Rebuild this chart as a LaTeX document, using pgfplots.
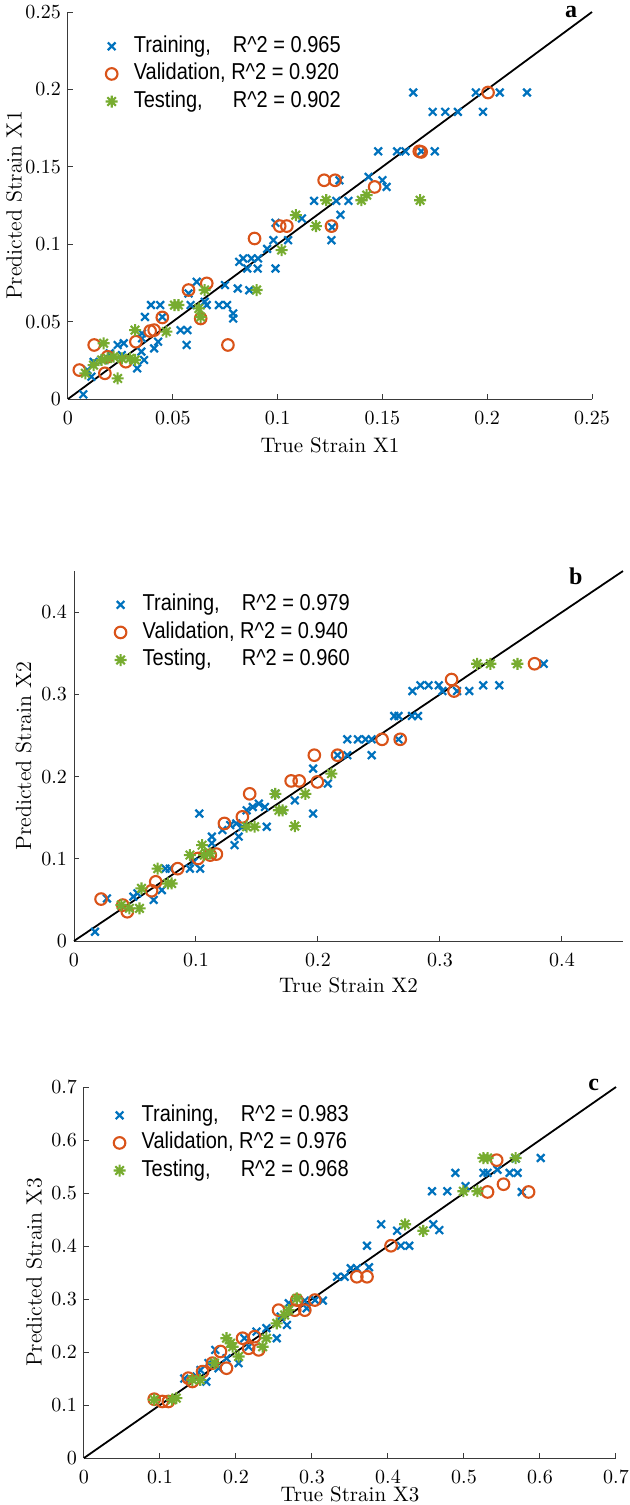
\documentclass[border=0pt]{standalone}
\usepackage{fontspec}
\usepackage{pgfplots}
\pgfplotsset{compat=1.18}
\newfontfamily\legfont[FakeStretch=0.87]{Liberation Sans}
\newfontfamily\ttlfont{Liberation Serif}
\definecolor{mblue}{HTML}{0072BD}
\definecolor{morange}{HTML}{D95319}
\definecolor{mgreen}{HTML}{77AC30}
\definecolor{axcol}{HTML}{3A3A3A}
\pgfdeclareplotmark{mstar}{%
 \pgfpathmoveto{\pgfqpoint{-\pgfplotmarksize}{0pt}}\pgfpathlineto{\pgfqpoint{\pgfplotmarksize}{0pt}}%
 \pgfpathmoveto{\pgfqpoint{0pt}{-\pgfplotmarksize}}\pgfpathlineto{\pgfqpoint{0pt}{\pgfplotmarksize}}%
 \pgfpathmoveto{\pgfqpoint{-.7071\pgfplotmarksize}{-.7071\pgfplotmarksize}}\pgfpathlineto{\pgfqpoint{.7071\pgfplotmarksize}{.7071\pgfplotmarksize}}%
 \pgfpathmoveto{\pgfqpoint{-.7071\pgfplotmarksize}{.7071\pgfplotmarksize}}\pgfpathlineto{\pgfqpoint{.7071\pgfplotmarksize}{-.7071\pgfplotmarksize}}%
 \pgfusepathqstroke}
\pgfplotsset{
 tr/.style={only marks, mark=x, mark size=2.7pt, mblue, line width=1.1pt},
 va/.style={only marks, mark=o, mark size=2.9pt, morange, line width=1.05pt},
 te/.style={only marks, mark=mstar, mark size=3pt, mgreen, line width=1.05pt},
 diag/.style={black, line width=0.9pt, no marks, forget plot},
 mystyle/.style={
  scale only axis, axis x line=bottom, axis y line=left,
  axis line style={-, axcol, line width=0.5pt},
  tick align=inside, major tick length=2.6pt, tick style={axcol, line width=0.5pt},
  tick label style={font=\fontsize{10.2}{12}\selectfont, black},
  xticklabel style={yshift=-3pt},
  /pgf/number format/fixed, /pgf/number format/precision=2,
  label style={font=\fontsize{10.5}{12}\selectfont},
  ylabel style={font=\fontsize{11}{12}\selectfont},
  clip=false,
  legend cell align=left,
  legend image code/.code={\path (0cm,0cm) (17pt,0cm); \draw[##1] plot coordinates {(8pt,0cm)};},
  legend style={draw=none, fill=none, inner sep=0pt, anchor=north west,
    font=\legfont\fontsize{11.5}{13}\selectfont, row sep=0pt,
    nodes={inner sep=1.5pt, text height=8.3pt, text depth=2.5pt}},
 }
}
\begin{document}
\begin{tikzpicture}
\useasboundingbox (0,0) rectangle (315pt,-752.5pt);
% ---------------- panel a
\begin{axis}[mystyle, at={(34pt,-199.5pt)}, anchor=south west, width=262pt, height=193.5pt,
  xmin=0, xmax=0.25, ymin=0, ymax=0.25,
  xtick={0,0.05,0.1,0.15,0.2,0.25}, ytick={0,0.05,0.1,0.15,0.2,0.25},
  xlabel={True Strain X1}, ylabel={Predicted Strain X1},
  xlabel style={at={(axis description cs:0.5,-0.119)}, anchor=center},
  ylabel style={at={(axis description cs:-0.103,0.5)}, anchor=center},
  legend style={at={(rel axis cs:0.05,0.948)}}]
\addplot[tr] coordinates {
(0.0073,0.003) (0.1647,0.198) (0.1946,0.198) (0.206,0.198) (0.219,0.198)
(0.174,0.1855) (0.180,0.1855) (0.186,0.1855) (0.198,0.1855)
(0.148,0.160) (0.157,0.160) (0.161,0.160) (0.175,0.160) (0.1685,0.160)
(0.1434,0.1435) (0.150,0.1413) (0.152,0.137) (0.1295,0.1413)
(0.1174,0.128) (0.128,0.128) (0.1338,0.128) (0.130,0.119) (0.1257,0.1026) (0.126,0.111)
(0.1116,0.1166) (0.099,0.1138) (0.105,0.1026) (0.098,0.1026) (0.095,0.097) (0.099,0.0843)
(0.0817,0.0886) (0.0836,0.0908) (0.0875,0.0908) (0.0907,0.0908) (0.0855,0.0843) (0.0905,0.0843)
(0.0749,0.0736) (0.081,0.0714) (0.0865,0.0703) (0.072,0.0607) (0.0759,0.0607) (0.0788,0.0553) (0.0788,0.052)
(0.0662,0.0607) (0.0575,0.0682) (0.0614,0.0757) (0.0652,0.0628) (0.0585,0.0607)
(0.0396,0.0607) (0.044,0.0607) (0.045,0.053) (0.0367,0.053) (0.0537,0.0445) (0.057,0.0445) (0.0566,0.0349)
(0.0411,0.0327) (0.0353,0.0392) (0.035,0.0306) (0.0363,0.0252) (0.033,0.0198)
(0.0237,0.0349) (0.0266,0.036) (0.0199,0.0295) (0.017,0.0252) (0.0122,0.024) (0.0093,0.0187) (0.0112,0.0144)
(0.0257,0.0284) (0.043,0.037) (0.0353,0.0424)
};
\addlegendentry{\makebox[4.31em][l]{Training,}R\textasciicircum 2 = 0.965}
\addplot[va] coordinates {
(0.0054,0.0187) (0.0125,0.0349) (0.0176,0.0166) (0.0189,0.0273) (0.0276,0.0241) (0.0324,0.037)
(0.0392,0.0439) (0.0411,0.0445) (0.045,0.0527) (0.0575,0.0704) (0.0662,0.0747) (0.0633,0.052)
(0.0763,0.0349) (0.089,0.1037) (0.101,0.1117) (0.1044,0.1117) (0.1257,0.1117) (0.1222,0.1413)
(0.1274,0.1413) (0.1463,0.137) (0.1676,0.160) (0.1685,0.1596) (0.2004,0.198)
};
\addlegendentry{Validation, R\textasciicircum 2 = 0.920}
\addplot[te] coordinates {
(0.0083,0.0166) (0.017,0.036) (0.0237,0.0133) (0.0122,0.0219) (0.016,0.0252) (0.0189,0.0262)
(0.0218,0.0273) (0.0257,0.0262) (0.0295,0.0262) (0.032,0.0445) (0.032,0.0252) (0.0469,0.0435)
(0.0508,0.0607) (0.0527,0.0607) (0.0624,0.0585) (0.0652,0.0704) (0.090,0.0704) (0.1019,0.0962)
(0.1087,0.1188) (0.1183,0.1117) (0.1232,0.1284) (0.140,0.1284) (0.1425,0.1317) (0.168,0.1284) (0.0633,0.053)
};
\addlegendentry{\makebox[4.31em][l]{Testing,}R\textasciicircum 2 = 0.902}
\addplot[diag] coordinates {(0,0) (0.25,0.25)};
\node[font=\ttlfont\bfseries\fontsize{12}{14}\selectfont] at (rel axis cs:0.96,1.0) {a};
\end{axis}
% ---------------- panel b
\begin{axis}[mystyle, at={(37pt,-470.5pt)}, anchor=south west, width=274.5pt, height=185pt,
  xmin=0, xmax=0.45, ymin=0, ymax=0.45,
  xtick={0,0.1,0.2,0.3,0.4}, ytick={0,0.1,0.2,0.3,0.4},
  xlabel={True Strain X2}, ylabel={Predicted Strain X2},
  xlabel style={at={(axis description cs:0.5,-0.119)}, anchor=center},
  ylabel style={at={(axis description cs:-0.092,0.5)}, anchor=center},
  legend style={at={(rel axis cs:0.053,0.947)}}]
\addplot[tr] coordinates {
(0.0172,0.0113) (0.027,0.0518) (0.0487,0.054) (0.0653,0.050) (0.052,0.058) (0.072,0.062)
(0.075,0.088) (0.0785,0.088) (0.095,0.088) (0.1034,0.088) (0.098,0.096) (0.1027,0.155)
(0.113,0.127) (0.113,0.119) (0.1216,0.135) (0.1316,0.1166) (0.135,0.127) (0.128,0.141)
(0.138,0.139) (0.1415,0.159) (0.1465,0.163) (0.1515,0.167) (0.1565,0.163) (0.158,0.139)
(0.133,0.143) (0.171,0.159) (0.165,0.179) (0.181,0.171) (0.196,0.2097) (0.196,0.155)
(0.208,0.1915) (0.216,0.226) (0.224,0.226) (0.224,0.2453) (0.2327,0.2453) (0.239,0.2453)
(0.244,0.226) (0.244,0.2453) (0.266,0.2453) (0.2625,0.2737) (0.266,0.2737) (0.277,0.2737)
(0.282,0.2737) (0.2774,0.304) (0.284,0.311) (0.2906,0.311) (0.299,0.311) (0.302,0.304)
(0.314,0.304) (0.324,0.304) (0.3354,0.311) (0.3486,0.311) (0.385,0.3372)
};
\addlegendentry{\makebox[4.31em][l]{Training,}R\textasciicircum 2 = 0.979}
\addplot[va] coordinates {
(0.0222,0.051) (0.040,0.0437) (0.0437,0.0356) (0.0636,0.0611) (0.067,0.072) (0.085,0.088)
(0.1017,0.1004) (0.1117,0.1045) (0.1167,0.1057) (0.1233,0.143) (0.138,0.151) (0.144,0.179)
(0.178,0.1947) (0.1846,0.1947) (0.1995,0.1935) (0.197,0.226) (0.216,0.226) (0.2525,0.2453)
(0.2674,0.2453) (0.3095,0.318) (0.3115,0.304) (0.3775,0.3372)
};
\addlegendentry{Validation, R\textasciicircum 2 = 0.940}
\addplot[te] coordinates {
(0.0388,0.0437) (0.0454,0.0397) (0.0537,0.0397) (0.0553,0.064) (0.0686,0.088) (0.0769,0.070)
(0.080,0.070) (0.095,0.1045) (0.105,0.1166) (0.1067,0.1045) (0.1117,0.1065) (0.1415,0.139)
(0.148,0.139) (0.165,0.179) (0.168,0.159) (0.171,0.159) (0.181,0.1397) (0.1896,0.179)
(0.211,0.2036) (0.3304,0.3372) (0.3413,0.3372) (0.3635,0.3372)
};
\addlegendentry{\makebox[4.31em][l]{Testing,}R\textasciicircum 2 = 0.960}
\addplot[diag] coordinates {(0,0) (0.45,0.45)};
\node[font=\ttlfont\bfseries\fontsize{12}{14}\selectfont] at (rel axis cs:0.914,0.986) {b};
\end{axis}
% ---------------- panel c
\begin{axis}[mystyle, at={(42pt,-729pt)}, anchor=south west, width=266pt, height=185.5pt,
  xmin=0, xmax=0.7, ymin=0, ymax=0.7,
  xtick={0,0.1,0.2,0.3,0.4,0.5,0.6,0.7}, ytick={0,0.1,0.2,0.3,0.4,0.5,0.6,0.7},
  xlabel={True Strain X3}, ylabel={Predicted Strain X3},
  xlabel style={at={(axis description cs:0.5,-0.099)}, anchor=center},
  ylabel style={at={(axis description cs:-0.094,0.5)}, anchor=center},
  legend style={at={(rel axis cs:0.034,0.962)}}]
\addplot[tr] coordinates {
(0.601,0.566) (0.4886,0.538) (0.5256,0.538) (0.531,0.538) (0.544,0.544) (0.56,0.538)
(0.5705,0.538) (0.576,0.502) (0.568,0.565) (0.458,0.5034) (0.478,0.5034) (0.502,0.513)
(0.391,0.441) (0.412,0.4288) (0.3724,0.4005) (0.417,0.4005) (0.428,0.4005) (0.4596,0.441)
(0.4675,0.430) (0.333,0.342) (0.343,0.342) (0.351,0.358) (0.359,0.358) (0.375,0.36)
(0.3143,0.297) (0.304,0.298) (0.293,0.2825) (0.267,0.251) (0.2536,0.226) (0.240,0.245)
(0.227,0.2385) (0.211,0.226) (0.2034,0.179) (0.1875,0.188) (0.1727,0.204) (0.1638,0.179)
(0.161,0.144) (0.148,0.1538) (0.132,0.150) (0.1532,0.166) (0.177,0.1695) (0.2166,0.210)
(0.2589,0.2668) (0.2694,0.292) (0.2905,0.297)
};
\addlegendentry{\makebox[4.31em][l]{Training,}R\textasciicircum 2 = 0.983}
\addplot[va] coordinates {
(0.0924,0.111) (0.103,0.1067) (0.111,0.1067) (0.1373,0.1507) (0.1426,0.1444) (0.156,0.163)
(0.169,0.179) (0.1796,0.201) (0.1875,0.1695) (0.2087,0.226) (0.2166,0.207) (0.2245,0.229)
(0.2298,0.204) (0.256,0.279) (0.280,0.298) (0.2773,0.279) (0.2905,0.279) (0.3037,0.298)
(0.359,0.342) (0.3724,0.342) (0.404,0.4005) (0.531,0.502) (0.552,0.5166) (0.543,0.562) (0.585,0.502)
};
\addlegendentry{Validation, R\textasciicircum 2 = 0.976}
\addplot[te] coordinates {
(0.0924,0.110) (0.116,0.110) (0.1215,0.113) (0.1426,0.1475) (0.153,0.1475) (0.1717,0.179)
(0.1875,0.226) (0.193,0.2166) (0.2034,0.1915) (0.235,0.210) (0.240,0.226) (0.2536,0.254)
(0.264,0.270) (0.2694,0.279) (0.28,0.301) (0.4226,0.441) (0.4464,0.4288) (0.4992,0.5034)
(0.5177,0.5034) (0.5256,0.566) (0.531,0.566) (0.568,0.566) (0.1955,0.21)
};
\addlegendentry{\makebox[4.31em][l]{Testing,}R\textasciicircum 2 = 0.968}
\addplot[diag] coordinates {(0,0) (0.7,0.7)};
\node[font=\ttlfont\bfseries\fontsize{12}{14}\selectfont] at (rel axis cs:0.958,1.005) {c};
\end{axis}
\end{tikzpicture}
\end{document}
